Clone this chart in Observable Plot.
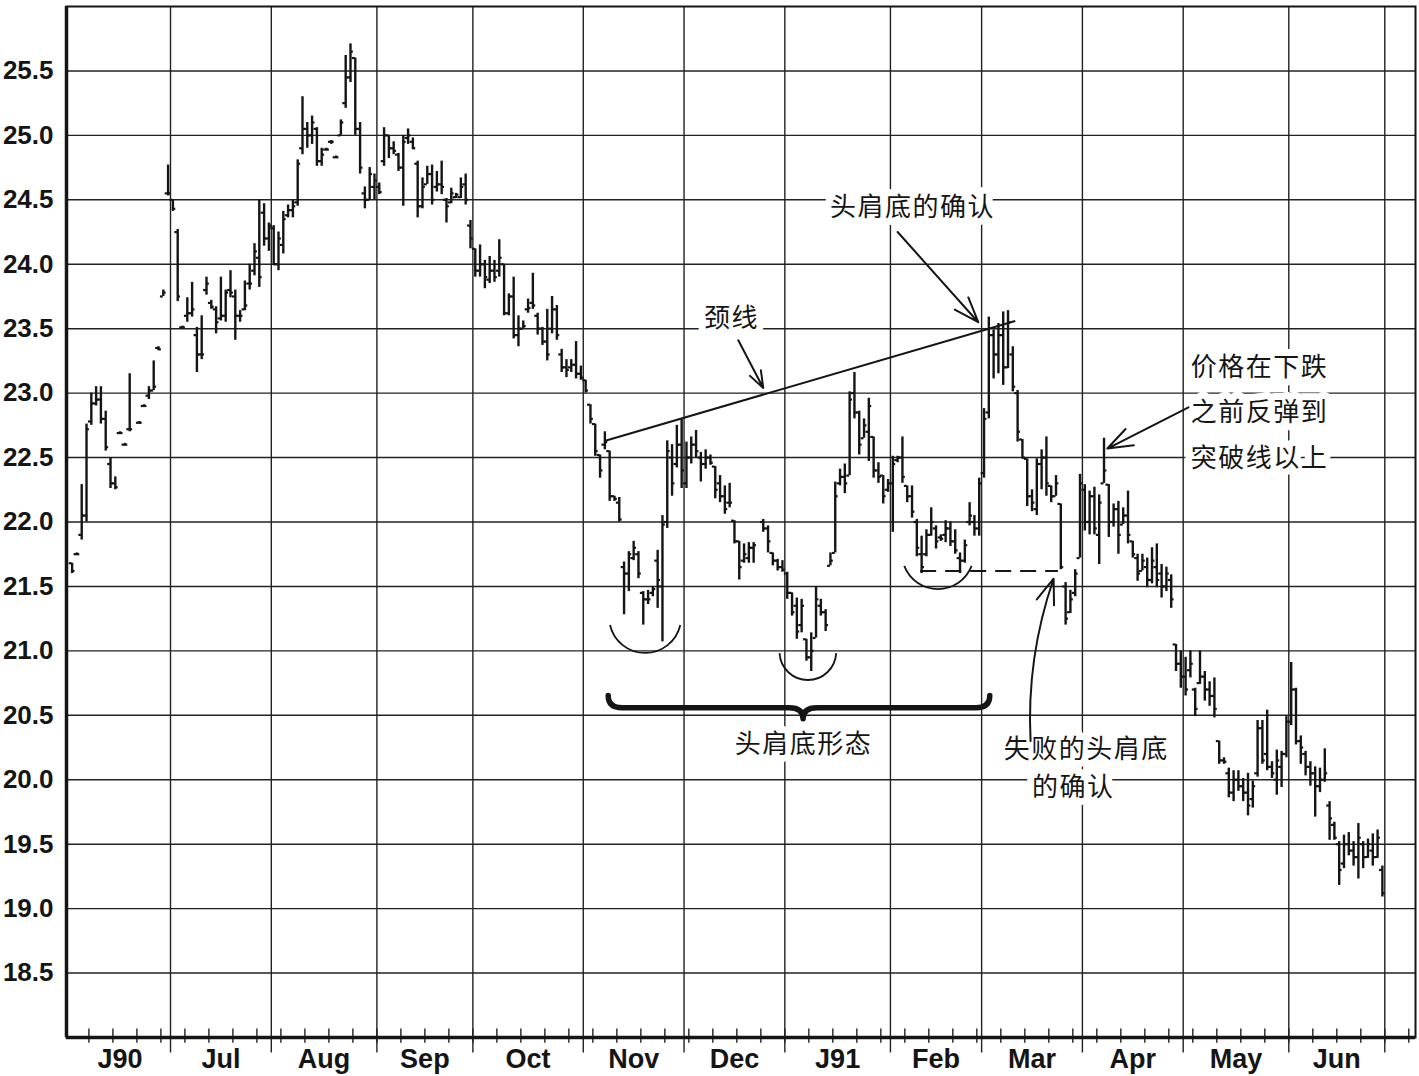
<!DOCTYPE html>
<html>
<head>
<meta charset="utf-8">
<script src="https://cdn.jsdelivr.net/npm/d3@7"></script>
<script src="https://cdn.jsdelivr.net/npm/@observablehq/plot@0.6"></script>
<style>
html, body { margin: 0; padding: 0; background: #fff; }
#chart svg { display: block; }
.cjk text { letter-spacing: 1.5px; }
</style>
</head>
<body>
<div id="chart"></div>
<script>
// Month labels on the time axis
const monthLabels = ["J90", "Jul", "Aug", "Sep", "Oct", "Nov", "Dec", "J91", "Feb", "Mar", "Apr", "May", "Jun"];

// Daily bars per month: [open, high, low, close]; null = no trade
const jun90 = [
  [21.68,21.68,21.60,21.62],[21.75,21.76,21.74,21.75],[21.90,22.29,21.86,22.05],[22.05,22.76,22.00,22.72],
  [22.78,23.00,22.75,22.92],[22.92,23.05,22.90,22.95],[22.95,23.05,22.76,22.80],[22.80,22.86,22.55,22.58],
  [22.45,22.50,22.26,22.30],[22.30,22.35,22.25,22.27],[22.69,22.70,22.68,22.69],[22.60,22.61,22.59,22.60],
  [22.72,23.15,22.70,22.72],null,[22.77,22.78,22.76,22.77],[22.90,22.91,22.89,22.90],
  [22.98,23.05,22.95,23.02],[23.02,23.25,23.02,23.05],[23.35,23.36,23.33,23.34],[23.75,23.80,23.75,23.78],
  [24.55,24.77,24.53,24.55]
];
const jul90 = [
  [24.50,24.50,24.41,24.43],[24.25,24.27,23.71,23.75],[23.51,23.52,23.50,23.51],[23.60,23.74,23.55,23.62],
  [23.62,23.86,23.59,23.65],[23.45,23.51,23.16,23.30],[23.30,23.60,23.26,23.30],[23.80,23.90,23.76,23.85],
  [23.70,23.72,23.65,23.67],[23.65,23.67,23.46,23.55],[23.58,23.90,23.56,23.60],[23.60,23.80,23.55,23.78],
  [23.80,23.95,23.74,23.78],[23.75,23.80,23.41,23.60],[23.60,23.64,23.55,23.60],[23.65,23.87,23.64,23.68],
  [23.85,24.00,23.80,23.85],[23.95,24.16,23.91,24.10],[24.05,24.50,23.82,23.90],[24.40,24.47,24.14,24.20],
  [24.20,24.32,24.10,24.30]
];
const aug90 = [
  [24.28,24.30,23.99,24.00],[24.00,24.25,23.95,24.20],[24.15,24.41,24.08,24.35],[24.38,24.46,24.36,24.42],
  [24.42,24.50,24.36,24.45],[24.48,24.81,24.45,24.78],[24.90,25.30,24.85,25.05],[25.05,25.10,24.90,25.00],
  [25.00,25.15,24.93,25.10],[25.05,25.06,24.76,24.80],[24.80,24.90,24.76,24.85],[24.89,24.90,24.88,24.89],
  [24.95,24.96,24.93,24.95],[24.83,24.84,24.82,24.83],[25.00,25.12,25.00,25.10],[25.25,25.62,25.21,25.45],
  [25.45,25.71,25.41,25.65],[25.60,25.60,25.00,25.05],[25.05,25.10,24.70,24.75],[24.55,24.60,24.43,24.50],
  [24.50,24.75,24.50,24.70],[24.60,24.70,24.50,24.65]
];
const sep90 = [
  [24.60,24.63,24.54,24.56],[24.80,25.06,24.76,25.00],[25.00,25.00,24.82,24.90],[24.90,24.95,24.85,24.88],
  [24.85,24.86,24.72,24.75],[24.75,25.00,24.45,24.95],[24.98,25.05,24.93,25.00],[24.95,24.98,24.89,24.90],
  [24.78,24.80,24.36,24.45],[24.45,24.67,24.43,24.60],[24.62,24.76,24.62,24.70],[24.70,24.77,24.46,24.50],
  [24.60,24.72,24.56,24.62],[24.62,24.80,24.54,24.60],[24.50,24.51,24.32,24.45],[24.48,24.59,24.47,24.55],
  [24.52,24.55,24.51,24.54],[24.52,24.67,24.51,24.60],[24.62,24.70,24.46,24.50],[24.30,24.34,24.12,24.20]
];
const oct90 = [
  [24.12,24.12,23.90,23.95],[23.95,24.15,23.90,24.00],[24.00,24.03,23.81,23.90],[23.88,24.06,23.85,23.95],
  [23.95,24.03,23.86,23.90],[23.95,24.19,23.90,24.05],[24.00,24.00,23.60,23.62],[23.62,23.77,23.60,23.75],
  [23.75,23.90,23.42,23.45],[23.45,23.60,23.36,23.50],[23.50,23.56,23.50,23.52],[23.65,23.73,23.62,23.66],
  [23.70,23.93,23.65,23.68],[23.60,23.62,23.45,23.50],[23.50,23.51,23.37,23.40],[23.40,23.65,23.25,23.30],
  [23.50,23.75,23.46,23.65],[23.65,23.68,23.41,23.45],[23.30,23.34,23.16,23.20],[23.20,23.26,23.12,23.18],
  [23.20,23.26,23.16,23.22],[23.22,23.40,23.11,23.15],[23.15,23.21,23.10,23.12]
];
const nov90 = [
  [23.10,23.10,23.00,23.02],[22.91,22.91,22.76,22.80],[22.76,22.76,22.51,22.55],[22.52,22.52,22.34,22.40],
  [22.60,22.70,22.56,22.62],[22.55,22.55,22.16,22.20],[22.20,22.20,22.16,22.18],[22.15,22.19,22.00,22.02],
  [21.65,21.69,21.28,21.60],[21.60,21.77,21.46,21.75],[21.72,21.85,21.70,21.80],[21.75,21.77,21.56,21.60],
  [21.45,21.46,21.20,21.40],[21.40,21.47,21.36,21.40],[21.45,21.50,21.42,21.48],[21.70,21.78,21.33,21.55],
  [21.50,22.05,21.07,21.98],[22.00,22.63,21.95,22.55],[22.50,22.60,22.20,22.30],[22.45,22.75,22.42,22.60],
  [22.60,22.80,22.26,22.40]
];
const dec90 = [
  [22.30,22.62,22.26,22.50],[22.50,22.66,22.45,22.60],[22.60,22.71,22.50,22.55],[22.50,22.54,22.31,22.45],
  [22.45,22.56,22.41,22.50],[22.50,22.52,22.44,22.46],[22.43,22.43,22.18,22.25],[22.30,22.36,22.15,22.20],
  [22.20,22.28,22.06,22.10],[22.15,22.30,22.11,22.15],[22.01,22.01,21.83,21.85],[21.85,21.85,21.55,21.65],
  [21.70,21.83,21.68,21.75],[21.72,21.84,21.68,21.80],[21.80,21.84,21.68,21.82],null,
  [22.00,22.02,21.92,21.95],[21.95,21.97,21.76,21.85],[21.76,21.76,21.66,21.70],[21.70,21.71,21.62,21.65],
  [21.65,21.70,21.61,21.63]
];
const jan91 = [
  [21.60,21.61,21.40,21.45],[21.45,21.45,21.27,21.30],[21.35,21.41,21.09,21.15],[21.20,21.40,21.14,21.35],
  [21.09,21.09,20.92,20.95],[20.95,21.14,20.84,21.00],[21.10,21.50,21.10,21.40],[21.35,21.40,21.27,21.30],
  [21.30,21.32,21.15,21.20],[21.66,21.76,21.66,21.70],[21.76,22.31,21.76,22.20],[22.30,22.41,22.28,22.35],
  [22.35,22.45,22.22,22.30],[22.36,23.01,22.36,22.95],[23.00,23.16,22.80,22.85],[22.85,22.86,22.52,22.60],
  [22.65,22.80,22.65,22.75],[22.70,22.96,22.47,22.90],[22.66,22.66,22.34,22.40],[22.40,22.46,22.30,22.35],
  [22.36,22.36,22.14,22.20],[22.25,22.33,22.23,22.30]
];
const feb91 = [
  [22.30,22.51,21.92,22.45],[22.48,22.51,22.46,22.50],[22.50,22.66,22.30,22.35],[22.28,22.28,22.15,22.20],
  [22.20,22.28,22.03,22.08],[22.00,22.02,21.73,21.80],[21.75,21.89,21.60,21.65],[21.75,21.94,21.73,21.90],
  [21.90,22.11,21.89,22.00],[21.95,21.97,21.79,21.85],[21.88,21.90,21.85,21.87],[21.90,22.01,21.84,21.95],
  [21.95,22.00,21.81,21.85],[21.85,21.94,21.75,21.78],[21.72,21.76,21.60,21.70],[21.70,21.86,21.68,21.82],
  [22.00,22.15,21.97,22.05],[22.00,22.05,21.89,21.95],[21.95,22.34,21.89,22.30]
];
const mar91 = [
  [22.38,22.88,22.34,22.80],[22.85,23.59,22.80,23.45],[23.45,23.49,23.11,23.30],[23.30,23.54,23.15,23.45],
  [23.45,23.63,23.06,23.20],[23.20,23.64,23.19,23.55],[23.30,23.36,23.01,23.05],[23.00,23.02,22.62,22.70],
  [22.64,22.64,22.49,22.50],[22.49,22.49,22.12,22.20],[22.20,22.25,22.08,22.15],[22.10,22.49,22.05,22.45],
  [22.45,22.56,22.25,22.50],[22.50,22.66,22.20,22.30],[22.28,22.28,22.15,22.20],[22.20,22.36,22.20,22.30],
  [22.14,22.14,21.63,21.65],[21.50,21.53,21.20,21.25],[21.30,21.47,21.29,21.40],[21.45,21.63,21.42,21.60],
  [21.72,22.37,21.72,22.30]
];
const apr91 = [
  [22.25,22.29,21.93,22.00],[22.00,22.24,21.90,22.20],[22.20,22.27,21.90,21.95],[21.90,22.21,21.67,22.15],
  [22.30,22.65,22.30,22.40],[22.29,22.29,21.88,22.00],[22.00,22.14,21.96,22.10],[22.10,22.16,21.75,21.90],
  [21.98,22.11,21.98,22.05],[22.05,22.24,21.83,21.90],[21.85,21.85,21.72,21.75],[21.72,21.75,21.54,21.60],
  [21.62,21.75,21.62,21.70],[21.65,21.72,21.49,21.55],[21.55,21.80,21.52,21.70],[21.65,21.83,21.49,21.55],
  [21.60,21.67,21.41,21.50],[21.50,21.65,21.46,21.60],[21.55,21.59,21.33,21.40],[21.05,21.05,20.84,20.90],
  [20.90,21.00,20.71,20.80]
];
const may91 = [
  [20.80,20.95,20.65,20.70],[20.85,21.00,20.79,20.90],[20.70,20.71,20.49,20.55],[20.75,21.00,20.74,20.80],
  [20.80,20.84,20.61,20.70],[20.70,20.76,20.57,20.65],[20.65,20.79,20.48,20.55],[20.30,20.30,20.12,20.15],
  [20.15,20.17,20.12,20.14],[20.05,20.09,19.86,19.90],[19.90,20.07,19.83,20.00],[20.00,20.07,19.91,19.95],
  [19.95,20.01,19.83,19.90],[19.90,20.05,19.72,19.80],[19.85,19.99,19.78,19.95],[20.05,20.46,20.02,20.40],
  [20.40,20.46,20.12,20.15],[20.20,20.54,20.07,20.10],[20.10,20.14,20.01,20.05],[20.00,20.23,19.88,20.15],
  [20.10,20.22,19.94,20.20],[20.20,20.49,20.17,20.45]
];
const jun91 = [
  [20.45,20.91,20.42,20.70],[20.70,20.71,20.27,20.30],[20.30,20.34,20.12,20.25],[20.20,20.22,20.03,20.10],
  [20.10,20.14,19.95,20.05],[20.05,20.10,19.71,19.95],[19.95,20.09,19.90,20.00],[20.00,20.24,19.98,20.05],
  [19.80,19.83,19.53,19.70],[19.65,19.67,19.53,19.55],[19.50,19.52,19.18,19.30],[19.35,19.57,19.31,19.50],
  [19.50,19.59,19.41,19.45],[19.45,19.52,19.33,19.40],[19.40,19.66,19.23,19.55],[19.50,19.52,19.31,19.40],
  [19.40,19.54,19.39,19.50],[19.45,19.58,19.33,19.40],[19.40,19.61,19.39,19.55],[19.30,19.33,19.09,19.12]
];

// Price axis ticks
const yTicks = [18.5, 19.0, 19.5, 20.0, 20.5, 21.0, 21.5, 22.0, 22.5, 23.0, 23.5, 24.0, 24.5, 25.0, 25.5];

// Annotations (trading-day index, price)
const necklineX = [111.1, 196.5];
const necklinePrice = [22.63, 23.56];
const failLevel = 21.62;
const failLevelSpan = [176.8, 205.5];
const labels = [
  {t: "头肩底的确认", x: 175.1, y: 24.44},
  {t: "颈线", x: 137.4, y: 23.58},
  {t: "价格在下跌", x: 247.4, y: 23.20},
  {t: "之前反弹到", x: 247.4, y: 22.85},
  {t: "突破线以上", x: 247.4, y: 22.49},
  {t: "头肩底形态", x: 152.4, y: 20.27},
  {t: "失败的头肩底", x: 211.3, y: 20.23},
  {t: "的确认", x: 208.6, y: 19.94}
];
const arrows = [
  {x1: 172.0, y1: 24.25, x2: 188.8, y2: 23.55, bend: 0},
  {x1: 138.8, y1: 23.41, x2: 144.0, y2: 23.04, bend: 0},
  {x1: 232.6, y1: 22.89, x2: 215.7, y2: 22.57, bend: 0},
  {x1: 199.7, y1: 20.30, x2: 204.5, y2: 21.56, bend: 11}
];
const arcs = [
  {x: 119.5, y: 21.26, r: 0.28, a0: 13, a1: 167},
  {x: 153.4, y: 20.99, r: 0.22, a0: 3, a1: 177},
  {x: 180.5, y: 21.756, r: 0.28, a0: 21, a1: 159}
];
const brace = {left: 111.8, mid: 152.4, right: 191.3, body: 20.555, ends: 20.65, tip: 20.47};

// ---- build table ----
const months = [jun90, jul90, aug90, sep90, oct90, nov90, dec90, jan91, feb91, mar91, apr91, may91, jun91];
const bars = [];
const monthStarts = [];
let g = 0;
months.forEach(m => {
  monthStarts.push(g);
  m.forEach(b => {
    if (b) bars.push({i: g, open: b[0], high: b[1], low: b[2], close: b[3]});
    g++;
  });
});
const monthInfo = months.map((m, k) => ({label: monthLabels[k], center: monthStarts[k] + (m.length - 1) / 2}));
const boundaries = monthStarts.slice(1).map(s => s - 0.5).concat([g - 0.5]);
const weekTicks = d3.range(3.5, 280, 5);

const ink = "#151515";

function annotationShapes(index, scales) {
  const grp = d3.create("svg:g").attr("fill", "none").attr("stroke", ink);
  arcs.forEach(a => {
    const cx = scales.x(a.x), cy = scales.y(a.y);
    const r = scales.y(a.y - a.r) - cy;
    const p = d3.path();
    p.arc(cx, cy, r, a.a0 * Math.PI / 180, a.a1 * Math.PI / 180, false);
    grp.append("path").attr("d", p.toString()).attr("stroke-width", 1.8);
  });
  const xL = scales.x(brace.left), xM = scales.x(brace.mid), xR = scales.x(brace.right);
  const yb = scales.y(brace.body), yE = scales.y(brace.ends), yT = scales.y(brace.tip);
  const p = d3.path();
  p.moveTo(xL, yE);
  p.quadraticCurveTo(xL, yb, xL + 14, yb);
  p.lineTo(xM - 14, yb);
  p.quadraticCurveTo(xM, yb, xM, yT);
  p.quadraticCurveTo(xM, yb, xM + 14, yb);
  p.lineTo(xR - 14, yb);
  p.quadraticCurveTo(xR, yb, xR, yE);
  grp.append("path").attr("d", p.toString()).attr("stroke-width", 5.5)
    .attr("stroke-linecap", "round").attr("stroke-linejoin", "round");
  return grp.node();
}

const chart = Plot.plot({
  width: 1419,
  height: 1076,
  marginLeft: 66,
  marginRight: 4,
  marginTop: 6,
  marginBottom: 39,
  x: {domain: [-1.17, 279.9], axis: null},
  y: {domain: [18, 26], axis: null},
  style: {fontFamily: "'Liberation Sans', Arial, sans-serif", background: "#fff", color: ink, overflow: "visible"},
  marks: [
    Plot.ruleY(yTicks, {stroke: "#222", strokeWidth: 1.4}),
    Plot.ruleX(boundaries, {y1: 17.88, y2: 26, stroke: "#222", strokeWidth: 1.4}),
    Plot.ruleX(weekTicks, {y1: 17.955, y2: 18.065, stroke: "#222", strokeWidth: 1.4}),
    Plot.text(labels, {x: "x", y: "y", text: "t", fontSize: 26, fontFamily: "'Noto Sans CJK SC', sans-serif",
      fill: ink, stroke: "#fff", strokeWidth: 14, className: "cjk"}),
    Plot.frame({stroke: ink, strokeWidth: 2}),
    Plot.ruleX([-1.17], {stroke: ink, strokeWidth: 3.5}),
    Plot.ruleY([18], {stroke: ink, strokeWidth: 3.5}),
    Plot.text(yTicks, {y: d => d, text: d => d.toFixed(1), frameAnchor: "left", dx: -13, textAnchor: "end",
      fontSize: 26, fontWeight: "bold", fill: ink}),
    Plot.text(monthInfo, {x: "center", text: "label", frameAnchor: "bottom", dy: 30, fontSize: 27, fontWeight: "bold", fill: ink}),
    Plot.ruleX(bars, {x: "i", y1: "low", y2: "high", stroke: ink, strokeWidth: 2.4}),
    Plot.ruleY(bars, {y: "open", x1: d => d.i - 0.6, x2: "i", stroke: ink, strokeWidth: 2.2}),
    Plot.ruleY(bars, {y: "close", x1: "i", x2: d => d.i + 0.6, stroke: ink, strokeWidth: 2.2}),
    Plot.link([0], {x1: () => necklineX[0], y1: () => necklinePrice[0], x2: () => necklineX[1], y2: () => necklinePrice[1],
      stroke: ink, strokeWidth: 2}),
    Plot.ruleY([failLevel], {x1: failLevelSpan[0], x2: failLevelSpan[1], stroke: ink, strokeWidth: 2, strokeDasharray: "16,9"}),
    Plot.arrow(arrows.filter(a => a.bend === 0), {x1: "x1", y1: "y1", x2: "x2", y2: "y2", stroke: ink, strokeWidth: 2,
      headLength: 20, headAngle: 40}),
    Plot.arrow(arrows.filter(a => a.bend !== 0), {x1: "x1", y1: "y1", x2: "x2", y2: "y2", bend: 11, stroke: ink, strokeWidth: 2,
      headLength: 20, headAngle: 40}),
    annotationShapes
  ]
});
document.getElementById("chart").appendChild(chart);
</script>
</body>
</html>
